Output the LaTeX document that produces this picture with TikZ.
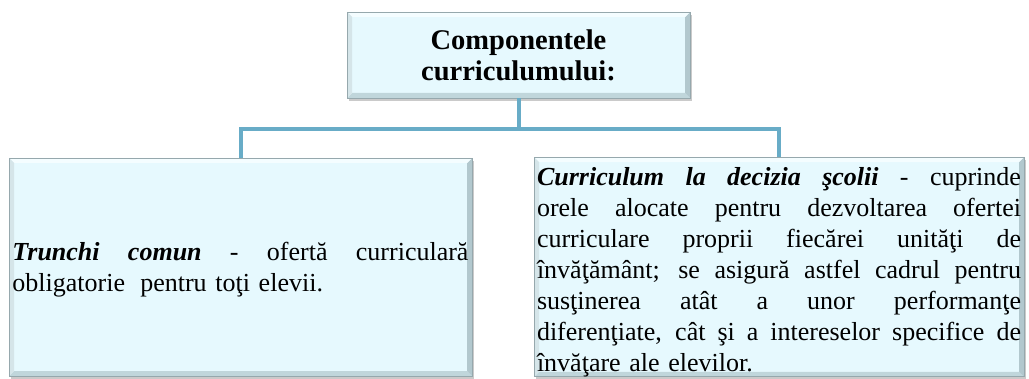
\documentclass[tikz,border=0pt]{standalone}
\usepackage{fontspec}
\setmainfont{Liberation Serif}
\usetikzlibrary{shadows}
\definecolor{boxfill}{RGB}{230,249,254}
\definecolor{bevdark}{RGB}{192,214,219}
\definecolor{bevside}{RGB}{178,200,206}
\definecolor{bevlight}{RGB}{244,253,255}
\definecolor{boxline}{RGB}{150,168,173}
\definecolor{conn}{RGB}{104,172,199}
\newcommand\jline[1]{\hbox to\hsize{\spaceskip=0.25em plus 1fil\relax #1}\par}
\tikzset{
  bevelbox/.style={rectangle, draw=boxline, line width=0.8pt, fill=boxfill,
    inner sep=0pt, outer sep=0pt,
    drop shadow={shadow xshift=2pt, shadow yshift=-3pt, opacity=0.35, fill=black!60},
    path picture={
      \def\b{5pt}
      \fill[bevdark] (path picture bounding box.south west) -- (path picture bounding box.south east)
        -- ([shift={(-\b,\b)}]path picture bounding box.south east) -- ([shift={(\b,\b)}]path picture bounding box.south west) -- cycle;
      \fill[bevside] (path picture bounding box.south east) -- (path picture bounding box.north east)
        -- ([shift={(-\b,-\b)}]path picture bounding box.north east) -- ([shift={(-\b,\b)}]path picture bounding box.south east) -- cycle;
      \fill[bevlight] (path picture bounding box.north west) -- (path picture bounding box.north east)
        -- ([shift={(-\b,-\b)}]path picture bounding box.north east) -- ([shift={(\b,-\b)}]path picture bounding box.north west) -- cycle;
      \fill[bevdark!60!bevlight] (path picture bounding box.north west) -- (path picture bounding box.south west)
        -- ([shift={(\b,\b)}]path picture bounding box.south west) -- ([shift={(\b,-\b)}]path picture bounding box.north west) -- cycle;
    }},
  textbody/.style={font=\fontsize{26}{31}\selectfont},
  connector/.style={draw=conn, line width=4pt}
}
\begin{document}
\begin{tikzpicture}[x=1pt,y=1pt]
\useasboundingbox (0,0) rectangle (1029,378);
\node[bevelbox, minimum width=343, minimum height=86, align=center,
      font=\bfseries\fontsize{28.5}{31}\selectfont] (top) at (518.5,323)
  {Componentele\\curriculumului:};
\node[bevelbox, minimum width=463, minimum height=218, text width=456, textbody] (left) at (240.5,111)
  {\jline{\rule{0pt}{24pt}\textbf{\textit{Trunchi comun}} - ofertă curriculară}obligatorie\hspace{0.25em} pentru toţi elevii.};
\node[bevelbox, minimum width=490, minimum height=218, text width=484, textbody] (right) at (779,111)
  {\jline{\rule{0pt}{28pt}\textbf{\textit{Curriculum la decizia şcolii}} - cuprinde}%
   \jline{orele alocate pentru dezvoltarea ofertei}%
   \jline{curriculare proprii fiecărei unităţi de}%
   \jline{învăţământ; se asigură astfel cadrul pentru}%
   \jline{susţinerea atât a unor performanţe}%
   \jline{diferenţiate, cât şi a intereselor specifice de}%
   învăţare ale elevilor.};
\coordinate (mid) at ([yshift=-31]top.south);
\draw[connector] (top.south) -- (mid);
\draw[connector] (mid) -| (left.north);
\draw[connector] (mid) -| (right.north);
\end{tikzpicture}
\end{document}
